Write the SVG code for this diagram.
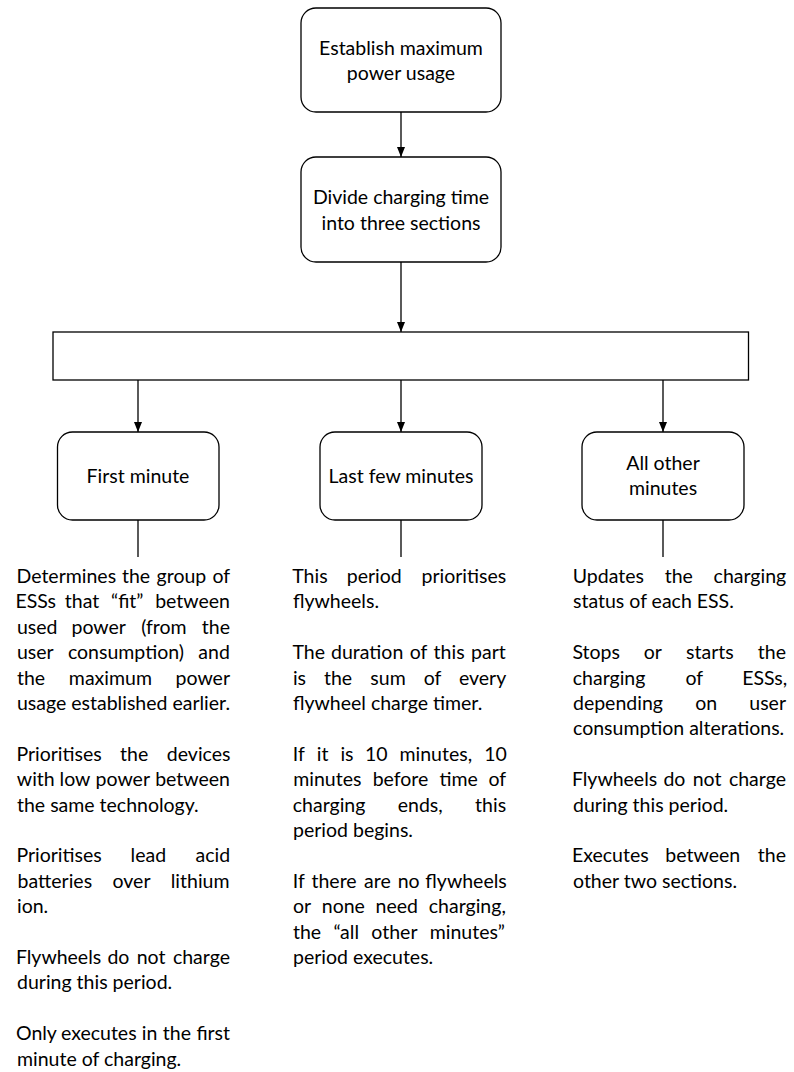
<svg xmlns="http://www.w3.org/2000/svg" width="794" height="1072" viewBox="0 0 794 1072">
<style>
.box{fill:#fff;stroke:#000;stroke-width:1.3}
.c{fill:none;stroke:#000;stroke-width:1.3}
text{font-family:Lato,"Liberation Sans",sans-serif;font-size:19.5px;fill:#000}
.m{text-anchor:middle}
</style>
<defs>
<marker id="ah" viewBox="0 0 10 10" refX="10" refY="5" markerUnits="userSpaceOnUse" markerWidth="10" markerHeight="8" preserveAspectRatio="none" orient="auto"><path d="M0,0 L10,5 L0,10 z" fill="#000"/></marker>
</defs>
<rect width="794" height="1072" fill="#fff"/>
<g id="connectors">
<line class="c" x1="401" y1="112" x2="401" y2="157" marker-end="url(#ah)"/>
<line class="c" x1="401" y1="262" x2="401" y2="332" marker-end="url(#ah)"/>
<line class="c" x1="138" y1="380" x2="138" y2="432" marker-end="url(#ah)"/>
<line class="c" x1="401" y1="380" x2="401" y2="432" marker-end="url(#ah)"/>
<line class="c" x1="663" y1="380" x2="663" y2="432" marker-end="url(#ah)"/>
<line class="c" x1="138" y1="520" x2="138" y2="557"/>
<line class="c" x1="401" y1="520" x2="401" y2="557"/>
<line class="c" x1="663" y1="520" x2="663" y2="557"/>
</g>
<g id="establish">
<rect class="box" x="301" y="8" width="200" height="104" rx="15"/>
<text class="m" x="401" y="55">Establish maximum</text>
<text class="m" x="401" y="80">power usage</text>
</g>
<g id="divide">
<rect class="box" x="301" y="157" width="200" height="105" rx="15"/>
<text class="m" x="401" y="204">Divide charging time</text>
<text class="m" x="401" y="229.5">into three sections</text>
</g>
<g id="sections">
<rect class="box" x="53" y="332" width="695.5" height="48"/>
</g>
<g id="first">
<rect class="box" x="57.5" y="432" width="161.5" height="88" rx="15"/>
<text class="m" x="138" y="483">First minute</text>
</g>
<g id="last">
<rect class="box" x="320" y="432" width="162" height="88" rx="15"/>
<text class="m" x="401" y="483">Last few minutes</text>
</g>
<g id="other">
<rect class="box" x="582" y="432" width="162" height="88" rx="15"/>
<text class="m" x="663" y="470">All other</text>
<text class="m" x="663" y="494.5">minutes</text>
</g>
<g id="first-notes">
<text class="m" y="583"><tspan x="66.3">Determines</tspan><tspan x="136">the</tspan><tspan x="181.4">group</tspan><tspan x="221.35">of</tspan></text>
<text class="m" y="608.4"><tspan x="35.7">ESSs</tspan><tspan x="82">that</tspan><tspan x="127.3">“fit”</tspan><tspan x="192.6">between</tspan></text>
<text class="m" y="633.8"><tspan x="37.2">used</tspan><tspan x="98.7">power</tspan><tspan x="163.9">(from</tspan><tspan x="215.9">the</tspan></text>
<text class="m" y="659.2"><tspan x="35.35">user</tspan><tspan x="125.95">consumption)</tspan><tspan x="214.1">and</tspan></text>
<text class="m" y="684.6"><tspan x="31.1">the</tspan><tspan x="110.4">maximum</tspan><tspan x="202.8">power</tspan></text>
<text x="17" y="710">usage established earlier.</text>
<text class="m" y="760.8"><tspan x="59.05">Prioritises</tspan><tspan x="134.2">the</tspan><tspan x="198.65">devices</tspan></text>
<text class="m" y="786.2"><tspan x="35.75">with</tspan><tspan x="75">low</tspan><tspan x="122.8">power</tspan><tspan x="192.6">between</tspan></text>
<text x="17" y="811.6">the same technology.</text>
<text class="m" y="862.4"><tspan x="59.05">Prioritises</tspan><tspan x="148.35">lead</tspan><tspan x="212.8">acid</tspan></text>
<text class="m" y="887.8"><tspan x="54.85">batteries</tspan><tspan x="131.5">over</tspan><tspan x="200.15">lithium</tspan></text>
<text x="17" y="913.2">ion.</text>
<text class="m" y="964"><tspan x="58.55">Flywheels</tspan><tspan x="118.4">do</tspan><tspan x="151.1">not</tspan><tspan x="201.45">charge</tspan></text>
<text x="17" y="989.4">during this period.</text>
<text class="m" y="1040.2"><tspan x="36.45">Only</tspan><tspan x="98.8">executes</tspan><tspan x="149.55">in</tspan><tspan x="176.95">the</tspan><tspan x="213.25">first</tspan></text>
<text x="17" y="1065.6">minute of charging.</text>
</g>
<g id="last-notes">
<text class="m" y="583"><tspan x="309.95">This</tspan><tspan x="374.3">period</tspan><tspan x="463.85">prioritises</tspan></text>
<text x="293" y="608.4">flywheels.</text>
<text class="m" y="659.2"><tspan x="308.7">The</tspan><tspan x="367.2">duration</tspan><tspan x="418.6">of</tspan><tspan x="449.1">this</tspan><tspan x="488.45">part</tspan></text>
<text class="m" y="684.6"><tspan x="299.45">is</tspan><tspan x="338">the</tspan><tspan x="388">sum</tspan><tspan x="432.55">of</tspan><tspan x="482.6">every</tspan></text>
<text x="293" y="710">flywheel charge timer.</text>
<text class="m" y="760.8"><tspan x="298.8">If</tspan><tspan x="322.6">it</tspan><tspan x="347">is</tspan><tspan x="376.2">10</tspan><tspan x="435.8">minutes,</tspan><tspan x="495.45">10</tspan></text>
<text class="m" y="786.2"><tspan x="327.35">minutes</tspan><tspan x="400.5">before</tspan><tspan x="458.65">time</tspan><tspan x="497.35">of</tspan></text>
<text class="m" y="811.6"><tspan x="329.1">charging</tspan><tspan x="420.2">ends,</tspan><tspan x="490.6">this</tspan></text>
<text x="293" y="837">period begins.</text>
<text class="m" y="887.8"><tspan x="298.8">If</tspan><tspan x="334.1">there</tspan><tspan x="377.35">are</tspan><tspan x="408.65">no</tspan><tspan x="466.05">flywheels</tspan></text>
<text class="m" y="913.2"><tspan x="302.1">or</tspan><tspan x="343.35">none</tspan><tspan x="396.75">need</tspan><tspan x="467.3">charging,</tspan></text>
<text class="m" y="938.6"><tspan x="307.1">the</tspan><tspan x="346.2">“all</tspan><tspan x="394.45">other</tspan><tspan x="467.3">minutes”</tspan></text>
<text x="293" y="964">period executes.</text>
</g>
<g id="other-notes">
<text class="m" y="583"><tspan x="608.4">Updates</tspan><tspan x="678.8">the</tspan><tspan x="749.9">charging</tspan></text>
<text x="573" y="608.4">status of each ESS.</text>
<text class="m" y="659.2"><tspan x="596.25">Stops</tspan><tspan x="652.8">or</tspan><tspan x="709.9">starts</tspan><tspan x="771.9">the</tspan></text>
<text class="m" y="684.6"><tspan x="609.1">charging</tspan><tspan x="694.3">of</tspan><tspan x="764.7">ESSs,</tspan></text>
<text class="m" y="710"><tspan x="617.95">depending</tspan><tspan x="706.1">on</tspan><tspan x="767.65">user</tspan></text>
<text x="573" y="735.4">consumption alterations.</text>
<text class="m" y="786.2"><tspan x="614.55">Flywheels</tspan><tspan x="674.4">do</tspan><tspan x="707.1">not</tspan><tspan x="757.45">charge</tspan></text>
<text x="573" y="811.6">during this period.</text>
<text class="m" y="862.4"><tspan x="610.35">Executes</tspan><tspan x="702.75">between</tspan><tspan x="771.9">the</tspan></text>
<text x="573" y="887.8">other two sections.</text>
</g>
</svg>
